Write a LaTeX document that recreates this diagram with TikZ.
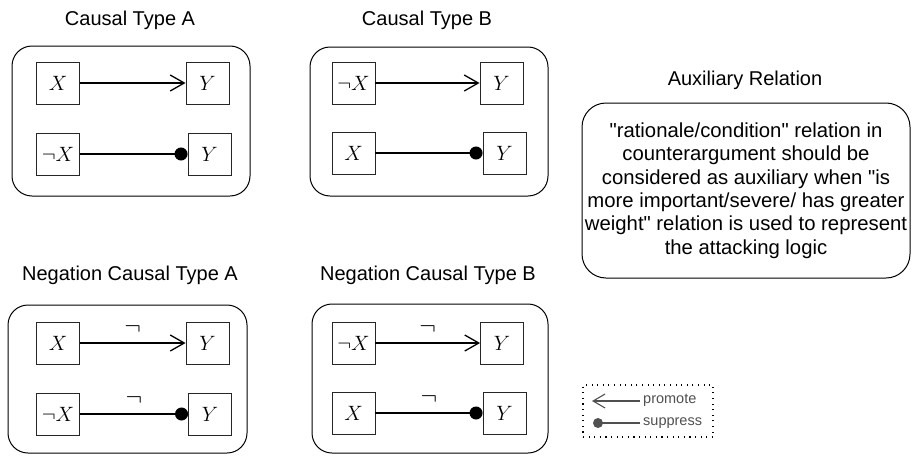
\documentclass[tikz,border=0pt]{standalone}
\usepackage{fontspec}
\setmainfont{Liberation Sans}[Ligatures=TeXOff]
\usetikzlibrary{arrows.meta}
\definecolor{leg}{RGB}{80,80,80}
\tikzset{
  panel/.style={draw=black, line width=1pt, rounded corners=20pt},
  nbox/.style={draw=black!85, line width=0.9pt, minimum width=43pt, minimum height=42pt, inner sep=0pt, font=\fontsize{21.5}{22}\selectfont},
  title/.style={font=\fontsize{20}{23}\selectfont},
  promote/.style={line width=1.4pt, -{Straight Barb[length=14pt,width=16pt,line width=1.3pt]}},
  suppress/.style={line width=1.4pt, -{Circle[length=13pt]}},
  neglab/.style={midway, above=8pt, inner sep=0pt, font=\fontsize{26}{26}\selectfont},
  legline/.style={draw=leg, line width=1.2pt},
  legtext/.style={font=\fontsize{14.5}{16}\selectfont, text=leg, anchor=west, inner sep=0pt}
}
\begin{document}
\begin{tikzpicture}[x=1pt,y=-1pt]
\useasboundingbox (0,0) rectangle (912,455);
% containers
\draw[panel] (12,46) rectangle (250,196);
\draw[panel] (310,47) rectangle (548,196);
\draw[panel] (8,305) rectangle (247,453);
\draw[panel] (312,304) rectangle (548,453);
% titles
\node[title] (tA) at (130,20) {Causal Type A};
\node[title] (tB) at (427,20) {Causal Type B};
\node[title] (tNA) at (130,275) {Negation Causal Type A};
\node[title] (tNB) at (428,275) {Negation Causal Type B};
\node[title] (tAux) at (745,80) {Auxiliary Relation};
% Causal Type A
\node[nbox] (a1) at (58,83) {$X$};
\node[nbox] (a2) at (207.5,83) {$Y$};
\node[nbox] (a3) at (58,154) {$\neg X$};
\node[nbox] (a4) at (209.5,154.5) {$Y$};
\draw[promote] (a1) -- (a2);
\draw[suppress] (a3) -- (a4.west |- a3);
% Causal Type B
\node[nbox] (b1) at (353.5,83) {$\neg X$};
\node[nbox] (b2) at (501.5,83) {$Y$};
\node[nbox] (b3) at (353.5,153) {$X$};
\node[nbox] (b4) at (504.5,153.5) {$Y$};
\draw[promote] (b1) -- (b2);
\draw[suppress] (b3) -- (b4.west |- b3);
% Negation Causal Type A
\node[nbox] (c1) at (58,343) {$X$};
\node[nbox] (c2) at (207.5,343) {$Y$};
\node[nbox] (c3) at (58,414) {$\neg X$};
\node[nbox] (c4) at (210,414) {$Y$};
\draw[promote] (c1) -- (c2) node[neglab] {$\neg$};
\draw[suppress] (c3) -- (c4.west |- c3) node[neglab] {$\neg$};
% Negation Causal Type B
\node[nbox] (d1) at (353.5,343) {$\neg X$};
\node[nbox] (d2) at (502,343) {$Y$};
\node[nbox] (d3) at (353.5,413) {$X$};
\node[nbox] (d4) at (504.5,413) {$Y$};
\draw[promote] (d1) -- (d2) node[neglab] {$\neg$};
\draw[suppress] (d3) -- (d4.west |- d3) node[neglab] {$\neg$};
% Auxiliary relation
\node[draw=black, line width=1pt, rounded corners=24pt, minimum width=328pt, minimum height=175pt, align=center, inner sep=0pt, font=\fontsize{20.3}{23.3}\selectfont] (aux) at (746,190.5)
  {"rationale/condition" relation in\\counterargument should be\\considered as auxiliary when "is\\more important/severe/ has greater\\weight" relation is used to represent\\the attacking logic};
% legend
\node[draw=black, line width=1.1pt, dash pattern=on 1.1pt off 4.5pt, minimum width=130pt, minimum height=52pt, inner sep=0pt] (leg) at (648,411) {};
\node[legtext] (lp) at (643,400) {promote};
\node[legtext] (ls) at (643,423) {suppress};
\coordinate (pe) at (592,401);
\coordinate (se) at (598,423);
\draw[legline, -{Straight Barb[length=12pt,width=14pt,line width=1.1pt]}] (lp.west) ++(-3,1) -- (pe);
\draw[legline] (ls.west) ++(-3,0) -- (se);
\fill[leg] (se) circle (5pt);
\end{tikzpicture}
\end{document}
